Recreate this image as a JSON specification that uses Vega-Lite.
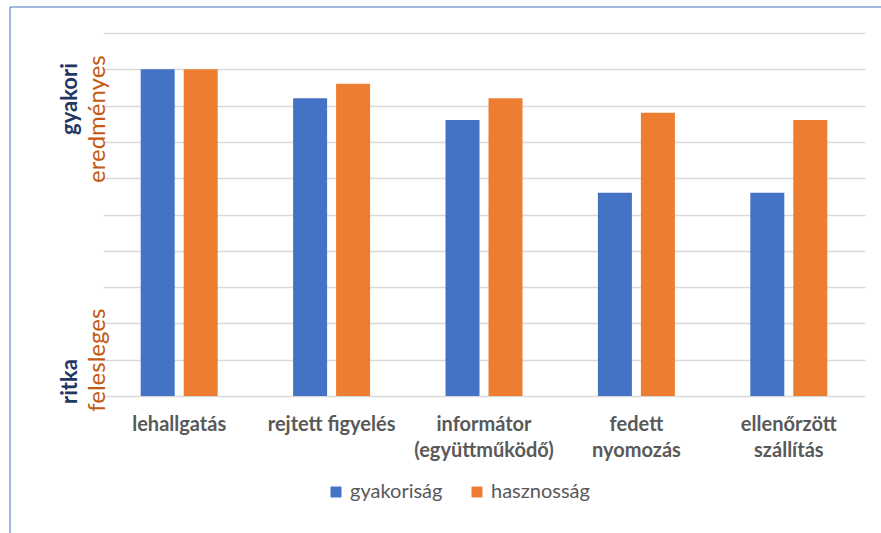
{
  "$schema": "https://vega.github.io/schema/vega-lite/v6.json",
  "width": 762,
  "height": 363,
  "autosize": {"type": "none"},
  "padding": {"left": 103, "top": 33, "right": 16, "bottom": 137},
  "background": "white",
  "data": {
    "values": [
      {"eszkoz": "lehallgatás", "sorozat": "gyakoriság", "ertek": 9.0},
      {"eszkoz": "lehallgatás", "sorozat": "hasznosság", "ertek": 9.0},
      {"eszkoz": "rejtett figyelés", "sorozat": "gyakoriság", "ertek": 8.2},
      {"eszkoz": "rejtett figyelés", "sorozat": "hasznosság", "ertek": 8.6},
      {"eszkoz": "informátor (együttműködő)", "sorozat": "gyakoriság", "ertek": 7.6},
      {"eszkoz": "informátor (együttműködő)", "sorozat": "hasznosság", "ertek": 8.2},
      {"eszkoz": "fedett nyomozás", "sorozat": "gyakoriság", "ertek": 5.6},
      {"eszkoz": "fedett nyomozás", "sorozat": "hasznosság", "ertek": 7.8},
      {"eszkoz": "ellenőrzött szállítás", "sorozat": "gyakoriság", "ertek": 5.6},
      {"eszkoz": "ellenőrzött szállítás", "sorozat": "hasznosság", "ertek": 7.6}
    ]
  },
  "encoding": {
    "x": {
      "field": "eszkoz",
      "type": "nominal",
      "sort": null,
      "scale": {"paddingInner": 0, "paddingOuter": 0},
      "axis": {
        "orient": "bottom",
        "title": null,
        "domain": false,
        "ticks": false,
        "labelAngle": 0,
        "labelFont": "Lato",
        "labelFontSize": 20,
        "labelFontWeight": "bold",
        "labelColor": "#595959",
        "labelPadding": 18,
        "labelBaseline": "top",
        "labelLineHeight": 26,
        "labelLimit": 300,
        "labelExpr": "datum.label == 'lehallgatás' || datum.label == 'rejtett figyelés' ? datum.label : split(replace(datum.label, ' ', '|'), '|')"
      }
    },
    "xOffset": {
      "field": "sorozat",
      "type": "nominal",
      "scale": {"domain": ["gyakoriság", "hasznosság"], "paddingInner": 0.209, "paddingOuter": 0.877}
    },
    "color": {
      "field": "sorozat",
      "type": "nominal",
      "scale": {"domain": ["gyakoriság", "hasznosság"], "range": ["#4472C4", "#ED7D31"]},
      "legend": {
        "orient": "none",
        "legendX": 223,
        "legendY": 449,
        "direction": "horizontal",
        "title": null,
        "symbolType": "square",
        "symbolSize": 120,
        "symbolStrokeWidth": 0,
        "labelFont": "Lato",
        "labelFontSize": 20,
        "labelColor": "#595959",
        "labelOffset": 4,
        "columnPadding": 24,
        "padding": 0
      }
    },
    "opacity": {
      "field": "eszkoz",
      "type": "nominal",
      "scale": {"range": [1, 1]},
      "legend": {
        "orient": "none",
        "legendX": -93.5,
        "legendY": -26.5,
        "direction": "vertical",
        "title": null,
        "padding": 480,
        "strokeColor": "#4472C4",
        "symbolType": "circle",
        "symbolSize": 0,
        "symbolStrokeWidth": 0,
        "labelExpr": "''",
        "labelFontSize": 1
      }
    },
    "fillOpacity": {
      "field": "ertek",
      "type": "quantitative",
      "scale": {"range": [1, 1]},
      "legend": {
        "orient": "none",
        "legendX": -92.5,
        "legendY": -25.5,
        "direction": "vertical",
        "title": null,
        "padding": 480,
        "strokeColor": "#4472C4",
        "symbolType": "circle",
        "symbolSize": 0,
        "symbolStrokeWidth": 0,
        "labelExpr": "''",
        "labelFontSize": 1
      }
    }
  },
  "layer": [
    {
      "transform": [{"filter": "datum.sorozat == 'gyakoriság'"}],
      "mark": {"type": "bar"},
      "encoding": {
        "y": {
          "field": "ertek",
          "type": "quantitative",
          "scale": {"domain": [0, 10]},
          "axis": {
            "orient": "left",
            "title": null,
            "values": [0, 1, 2, 3, 4, 5, 6, 7, 8, 9, 10],
            "grid": true,
            "gridColor": "#d9d9d9",
            "gridWidth": 1.5,
            "domain": false,
            "ticks": false,
            "tickSize": 0,
            "labelExpr": "datum.value == 8 ? 'gyakori' : datum.value == 0 ? 'ritka' : ''",
            "labelAngle": -90,
            "labelAlign": "center",
            "labelBaseline": "middle",
            "labelPadding": 34,
            "labelFont": "Lato",
            "labelFontWeight": "bold",
            "labelFontSize": 22,
            "labelColor": "#1F3864",
            "labelOffset": {"condition": {"test": "datum.value == 0", "value": -15}, "value": -7},
            "labelOverlap": false,
            "labelFlush": false,
            "labelBound": false
          }
        }
      }
    },
    {
      "transform": [{"filter": "datum.sorozat == 'hasznosság'"}],
      "mark": {"type": "bar"},
      "encoding": {
        "y": {
          "field": "ertek",
          "type": "quantitative",
          "scale": {"domain": [0, 10]},
          "axis": {
            "orient": "left",
            "title": null,
            "values": [1, 8],
            "grid": false,
            "domain": false,
            "ticks": false,
            "tickSize": 0,
            "labelExpr": "datum.value == 8 ? 'eredményes' : 'felesleges'",
            "labelAngle": -90,
            "labelAlign": "center",
            "labelBaseline": "middle",
            "labelPadding": 6,
            "labelFont": "Lato",
            "labelFontSize": 24,
            "labelColor": "#C55A11",
            "labelOffset": {"condition": {"test": "datum.value == 8", "value": 13}, "value": 0},
            "labelOverlap": false,
            "labelFlush": false,
            "labelBound": false
          }
        }
      }
    }
  ],
  "resolve": {"axis": {"y": "independent"}},
  "config": {"view": {"stroke": null}}
}
